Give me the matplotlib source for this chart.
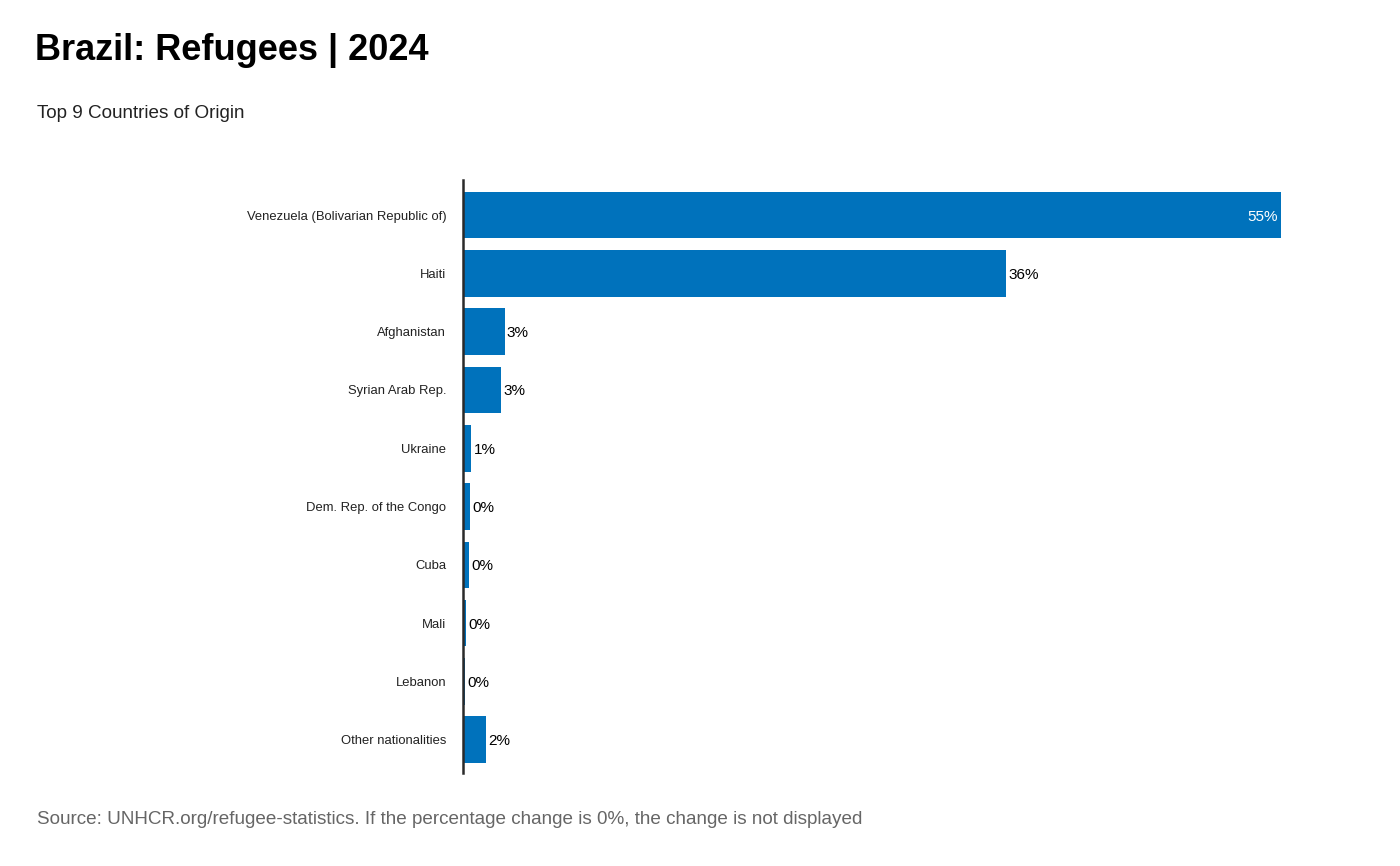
import numpy as np
import matplotlib.pyplot as plt

plt.rcParams['font.family'] = ['Liberation Sans', 'DejaVu Sans']

countries = ['Venezuela (Bolivarian Republic of)', 'Haiti', 'Afghanistan',
             'Syrian Arab Rep.', 'Ukraine', 'Dem. Rep. of the Congo', 'Cuba',
             'Mali', 'Lebanon', 'Other nationalities']
shares = [55.0, 36.5, 2.8, 2.55, 0.55, 0.47, 0.4, 0.2, 0.14, 1.55]
labels = ['55%', '36%', '3%', '3%', '1%', '0%', '0%', '0%', '0%', '2%']

blue = '#0072BC'

fig = plt.figure(figsize=(14, 8.66), dpi=100)
ax = fig.add_axes([0.3307, 0.1074, 0.5843, 0.6847])

y = np.arange(len(countries))
ax.barh(y, shares, height=0.8, color=blue)
ax.set_ylim(9.57, -0.6)
ax.set_xlim(0, 55)

for i, (v, lab) in enumerate(zip(shares, labels)):
    if i == 0:
        ax.text(v - 0.2, i, lab, ha='right', va='center_baseline', fontsize=11, color='white')
    else:
        ax.text(v + 0.15, i, lab, ha='left', va='center_baseline', fontsize=11, color='black')

ax.set_yticks(y)
ax.set_yticklabels(countries, fontsize=9.4, color='#222222')
ax.tick_params(axis='y', length=0, pad=12)
ax.set_xticks([])
for s in ['top', 'right', 'bottom']:
    ax.spines[s].set_visible(False)
ax.spines['left'].set_linewidth(1.8)
ax.spines['left'].set_color('#2a2a2a')

fig.text(35 / 1400, 1 - 50 / 866, 'Brazil: Refugees | 2024', fontsize=26,
         fontweight='bold', va='center', ha='left')
fig.text(37 / 1400, 1 - 113 / 866, 'Top 9 Countries of Origin', fontsize=13.6,
         va='center', ha='left', color='#222222')
fig.text(37 / 1400, 1 - 819 / 866,
         'Source: UNHCR.org/refugee-statistics. If the percentage change is 0%, the change is not displayed',
         fontsize=13.6, va='center', ha='left', color='#666666')

fig.savefig('out.png', dpi=100)
